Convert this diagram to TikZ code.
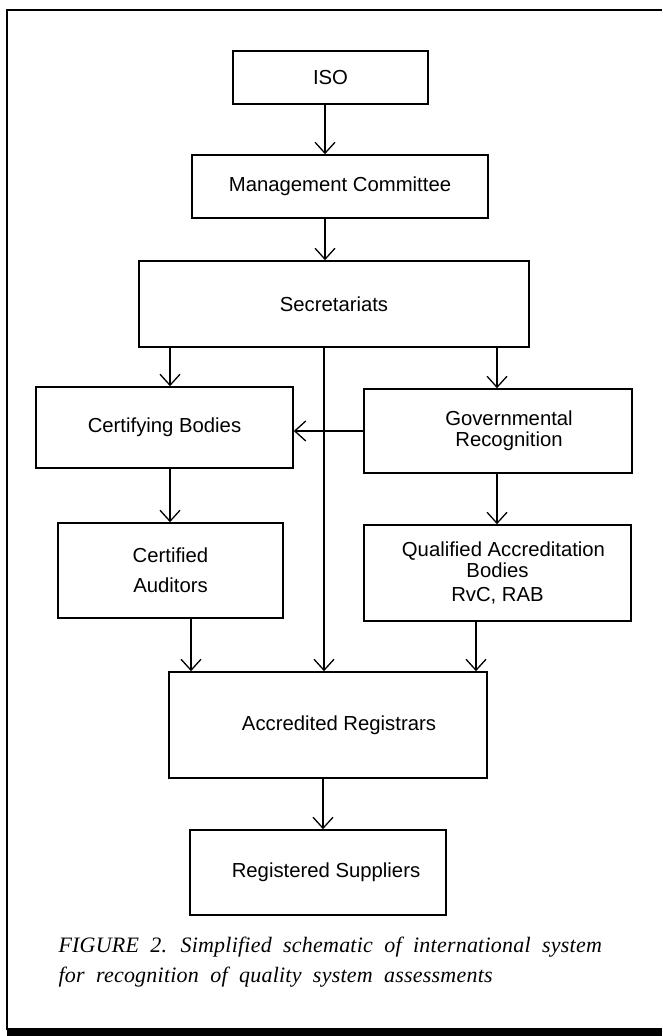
\documentclass[tikz,border=0pt]{standalone}
\usepackage{fontspec}
\setsansfont{Liberation Sans}
\newfontfamily\capfont[LetterSpace=1,WordSpace=2]{Liberation Serif}
\usetikzlibrary{arrows.meta}

\begin{document}
\begin{tikzpicture}[
    x=1pt, y=-1pt,
    every node/.style={font=\sffamily\fontsize{20.3}{21}\selectfont},
    box/.style={draw, line width=1.6pt, inner sep=0pt, align=center},
    arr/.style={line width=1.3pt, -{Straight Barb[length=11pt, width=20pt]}},
    caption/.style={anchor=base west, font=\capfont\itshape\fontsize{22}{24}\selectfont}
]
\useasboundingbox (0,0) rectangle (662,1036);

% frame
\draw[line width=1.6pt] (7,1030) -- (7,10) -- (662,10);
\fill (7,1028) rectangle (662,1036);

% boxes
\node[box, minimum width=195pt, minimum height=53pt] (iso) at (330.5,77.5) {ISO};
\node[box, minimum width=296pt, minimum height=63pt] (mc) at (340,186.5) {Management Committee};
\node[box, minimum width=390pt, minimum height=86pt] (sec) at (334,304) {Secretariats};
\node[box, minimum width=257pt, minimum height=81pt] (cb) at (164.5,427.5) {Certifying Bodies};
\node[box, minimum width=268pt, minimum height=84pt] (gr) at (498,431)
    {\hspace*{22pt}Governmental\\\hspace*{22pt}Recognition};
\node[box, minimum width=225pt, minimum height=95pt] (ca) at (170.5,570.5) {Certified\\[9pt]Auditors};
\node[box, minimum width=267pt, minimum height=96pt] (qab) at (497.5,573)
    {\hspace*{12pt}Qualified Accreditation\\Bodies\\[3pt]RvC, RAB};
\node[box, minimum width=318pt, minimum height=106pt] (ar) at (328,725) {\hspace*{22pt}Accredited Registrars};
\node[box, minimum width=256pt, minimum height=85pt] (rs) at (318,872.5) {\hspace*{16pt}Registered Suppliers};

% arrow columns
\coordinate (p1) at ([xshift=-5.5pt]iso.south);
\coordinate (p2) at ([xshift=-15pt]mc.south);
\coordinate (p3) at ([xshift=5.5pt]cb.north);
\coordinate (p4) at ([xshift=-10pt]sec.south);
\coordinate (p5) at ([xshift=-1pt]gr.north);
\coordinate (p7) at ([xshift=5.5pt]cb.south);
\coordinate (p8) at ([xshift=20.5pt]ca.south);
\coordinate (p9) at ([xshift=-21.5pt]qab.south);
\coordinate (p10) at ([xshift=-5pt]ar.south);

% connectors
\draw[arr] (p1) -- (p1 |- mc.north);
\draw[arr] (p2) -- (p2 |- sec.north);
\draw[arr] (p3 |- sec.south) -- (p3);
\draw[arr] (p4) -- (p4 |- ar.north);
\draw[arr] (p5 |- sec.south) -- (p5);
\draw[arr] (gr.west) -- (gr.west -| cb.east);
\draw[arr] (p7) -- (p7 |- ca.north);
\draw[arr] (p5 |- gr.south) -- (p5 |- qab.north);
\draw[arr] (p8) -- (p8 |- ar.north);
\draw[arr] (p9) -- (p9 |- ar.north);
\draw[arr] (p10) -- (p10 |- rs.north);

% caption
\node[caption] (cap1) at (55,952) {FIGURE 2. Simplified schematic of international system};
\node[caption] (cap2) at (55,982) {for recognition of quality system assessments};

\end{tikzpicture}
\end{document}
